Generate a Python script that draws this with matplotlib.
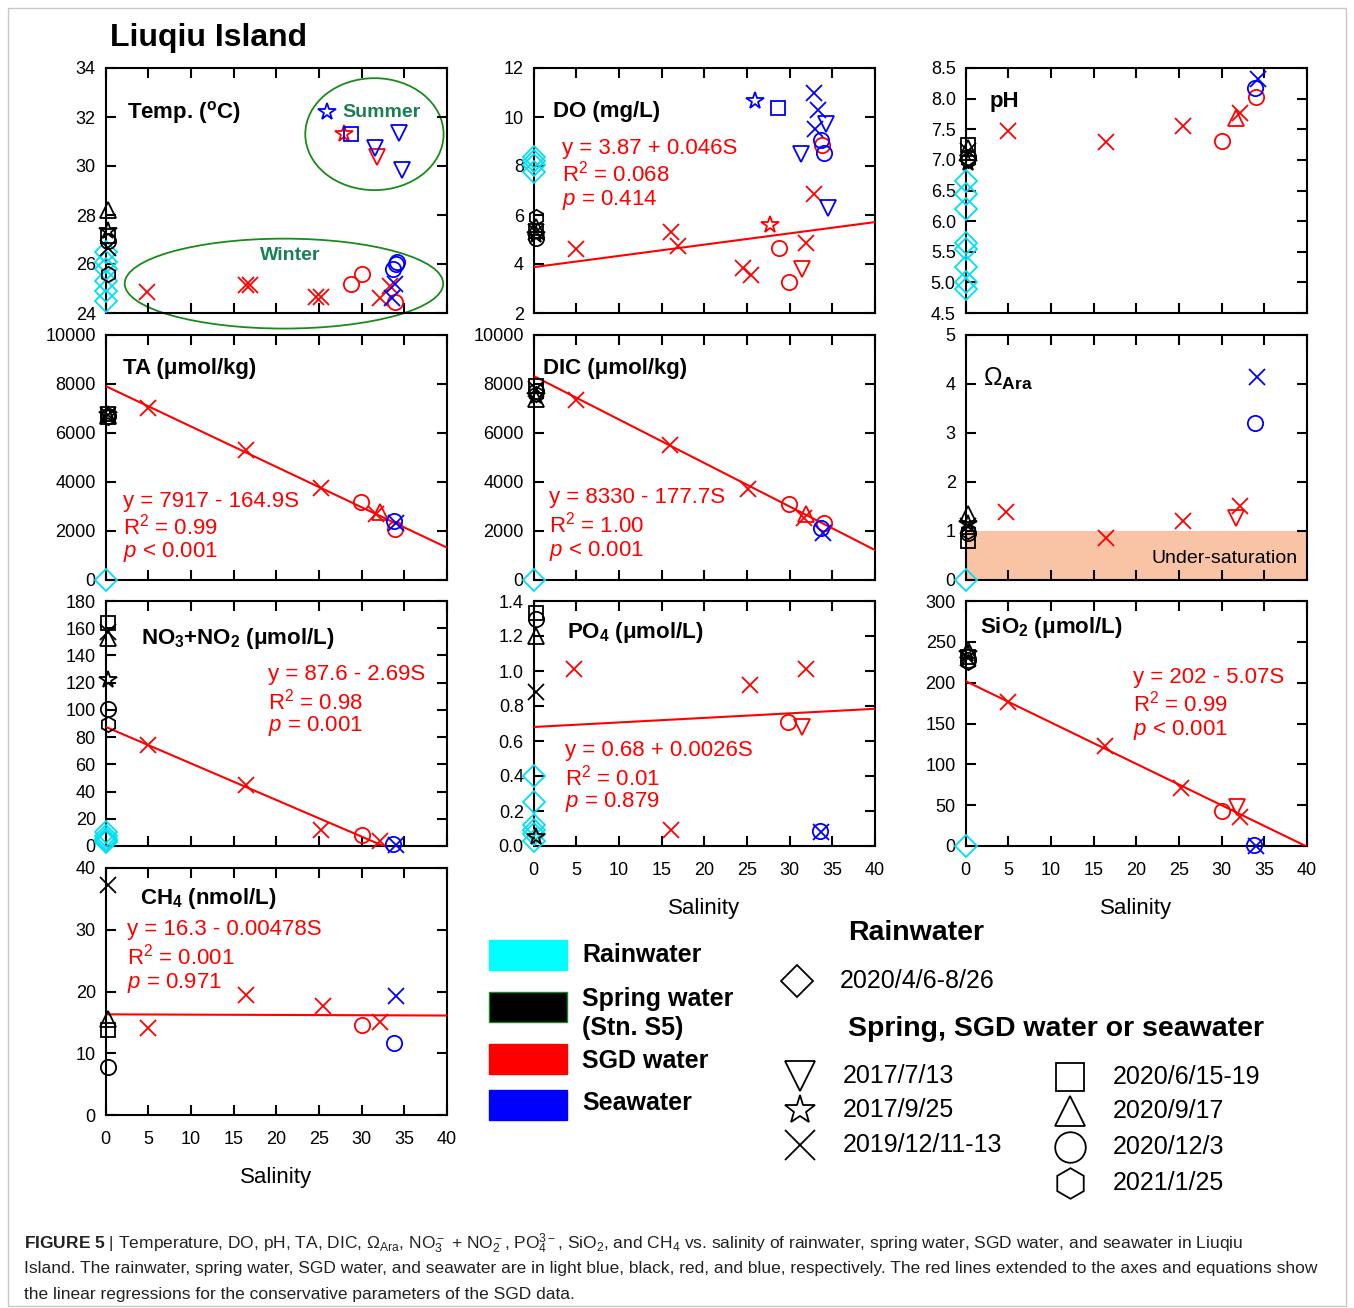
import numpy as np
import matplotlib
matplotlib.use("Agg")
import matplotlib.pyplot as plt
from matplotlib.patches import Ellipse, Rectangle
from matplotlib.ticker import FormatStrFormatter

plt.rcParams['font.family'] = ['Liberation Sans', 'DejaVu Sans']
plt.rcParams['mathtext.fontset'] = 'custom'
plt.rcParams['mathtext.rm'] = 'Liberation Sans'
plt.rcParams['mathtext.it'] = 'Liberation Sans:italic'
plt.rcParams['mathtext.bf'] = 'Liberation Sans:bold'

# ---- data: rainwater values (salinity 0), spring water (marker, value),
# ---- SGD / seawater (marker, salinity, value)
temp_rain = [26.5, 26.1, 25.8, 25.3, 24.9, 24.5]
temp_spring = [('^', 28.2), ('*', 27.35), ('s', 27.15), ('o', 26.95), ('x', 26.65), ('h', 25.6)]
temp_sgd = [('x', 4.9, 24.85), ('x', 16.4, 25.15), ('x', 16.9, 25.15), ('x', 24.7, 24.65),
            ('x', 25.3, 24.65), ('x', 32.1, 24.6), ('x', 33.3, 25.1), ('o', 28.7, 25.2),
            ('o', 30.0, 25.6), ('o', 33.9, 24.45), ('*', 27.9, 31.3), ('v', 31.8, 30.35)]
temp_sea = [('*', 26.0, 32.2), ('s', 28.8, 31.3), ('v', 31.6, 30.75), ('v', 34.4, 31.35),
            ('v', 34.7, 29.85), ('o', 33.7, 25.8), ('o', 34.0, 26.0), ('o', 34.2, 26.1),
            ('x', 33.5, 24.6), ('x', 33.9, 25.2)]

do_rain = [8.35, 8.2, 8.05, 7.75]
do_spring = [('h', 5.9), ('^', 5.5), ('s', 5.35), ('x', 5.3), ('*', 5.2), ('o', 5.05)]
do_sgd = [('x', 5.0, 4.6), ('x', 16.1, 5.3), ('x', 16.9, 4.75), ('x', 24.5, 3.85),
          ('x', 25.5, 3.55), ('x', 31.9, 4.85), ('x', 32.9, 6.85), ('*', 27.7, 5.6),
          ('o', 28.7, 4.65), ('o', 29.9, 3.25), ('o', 33.8, 8.85), ('v', 31.5, 3.8)]
do_sea = [('*', 26.0, 10.65), ('s', 28.6, 10.35), ('x', 32.8, 11.0), ('x', 33.3, 10.3),
          ('x', 33.0, 9.5), ('v', 31.3, 8.5), ('v', 34.3, 9.7), ('v', 34.5, 6.3),
          ('o', 33.7, 9.05), ('o', 34.0, 8.55)]

ph_rain = [6.65, 6.45, 6.2, 5.65, 5.55, 5.25, 5.0, 4.9]
ph_spring = [('s', 7.25), ('^', 7.2), ('x', 7.15), ('o', 7.05), ('h', 7.0), ('*', 6.95)]
ph_sgd = [('x', 5.0, 7.47), ('x', 16.4, 7.29), ('x', 25.5, 7.56), ('x', 32.1, 7.77),
          ('o', 30.0, 7.31), ('o', 34.0, 8.03), ('^', 31.7, 7.68)]
ph_sea = [('x', 34.3, 8.32), ('o', 33.9, 8.18)]

ta_rain = [20]
ta_spring = [('s', 6780), ('^', 6700), ('x', 6720), ('o', 6680), ('h', 6650), ('*', 6720)]
ta_sgd = [('x', 5.0, 7000), ('x', 16.4, 5300), ('x', 25.3, 3740), ('x', 31.7, 2680),
          ('o', 29.9, 3190), ('o', 33.9, 2080), ('^', 32.1, 2790)]
ta_sea = [('o', 33.8, 2400), ('x', 34.0, 2340)]

dic_rain = [20]
dic_spring = [('s', 7900), ('^', 7400), ('x', 7800), ('o', 7700), ('h', 7600), ('*', 7500)]
dic_sgd = [('x', 5.0, 7360), ('x', 16.0, 5530), ('x', 25.1, 3730), ('x', 31.7, 2550),
           ('o', 29.9, 3120), ('o', 34.0, 2320), ('^', 31.9, 2680)]
dic_sea = [('o', 33.7, 2140), ('x', 33.9, 1900)]

om_rain = [0.0]
om_spring = [('^', 1.35), ('*', 1.15), ('x', 1.1), ('h', 1.0), ('o', 0.95), ('s', 0.8)]
om_sgd = [('x', 4.8, 1.38), ('x', 16.4, 0.86), ('x', 25.5, 1.21), ('x', 32.1, 1.51),
          ('v', 31.7, 1.26)]
om_sea = [('x', 34.1, 4.15), ('o', 33.9, 3.21)]

no3_rain = [10, 7, 5, 4, 3]
no3_spring = [('s', 164), ('x', 157), ('^', 153), ('*', 122), ('o', 101), ('h', 90)]
no3_sgd = [('x', 5.0, 74), ('x', 16.4, 45), ('x', 25.3, 11.6), ('x', 32.1, 3.7),
           ('o', 30.0, 8.4)]
no3_sea = [('o', 33.7, 1.5), ('x', 34.0, 0.8)]

po4_rain = [0.40, 0.25, 0.12, 0.09, 0.07, 0.03]
po4_spring = [('s', 1.33), ('o', 1.30), ('^', 1.20), ('x', 0.88), ('*', 0.05)]
po4_sgd = [('x', 4.7, 1.01), ('x', 16.1, 0.09), ('x', 25.4, 0.92), ('x', 31.9, 1.01),
           ('o', 29.8, 0.71), ('v', 31.5, 0.68)]
po4_sea = [('o', 33.5, 0.085), ('x', 33.7, 0.08)]

si_rain = [0]
si_spring = [('^', 240), ('*', 235), ('s', 232), ('x', 230), ('o', 228), ('h', 225)]
si_sgd = [('x', 5.0, 176), ('x', 16.3, 122), ('x', 25.3, 70.5), ('x', 32.1, 36),
          ('o', 30.0, 43), ('v', 31.8, 48)]
si_sea = [('o', 33.8, 1), ('x', 34.0, 0.5)]

ch4_rain = []
ch4_spring = [('x', 37.3), ('^', 15.5), ('s', 13.8), ('o', 7.8)]
ch4_sgd = [('x', 5.0, 14.1), ('x', 16.4, 19.5), ('x', 25.5, 17.6), ('x', 32.1, 15.1),
           ('o', 30.0, 14.6)]
ch4_sea = [('x', 34.0, 19.3), ('o', 33.8, 11.7)]

# regression (intercept, slope) of SGD data
do_fit = (3.87, 0.046)
ta_fit = (7917, -164.9)
dic_fit = (8330, -177.7)
no3_fit = (87.6, -2.69)
po4_fit = (0.68, 0.0026)
si_fit = (202, -5.07)
ch4_fit = (16.3, -0.00478)

do_eq = ['y = 3.87 + 0.046S', 'R$^2$ = 0.068', '$p$ = 0.414']
ta_eq = ['y = 7917 - 164.9S', 'R$^2$ = 0.99', '$p$ < 0.001']
dic_eq = ['y = 8330 - 177.7S', 'R$^2$ = 1.00', '$p$ < 0.001']
no3_eq = ['y = 87.6 - 2.69S', 'R$^2$ = 0.98', '$p$ = 0.001']
po4_eq = ['y = 0.68 + 0.0026S', 'R$^2$ = 0.01', '$p$ = 0.879']
si_eq = ['y = 202 - 5.07S', 'R$^2$ = 0.99', '$p$ < 0.001']
ch4_eq = ['y = 16.3 - 0.00478S', 'R$^2$ = 0.001', '$p$ = 0.971']

COL = {'rain': '#00e0f4', 'spring': 'black', 'sgd': 'red', 'sea': 'blue'}
MS = {'x': 11, 'o': 11, 'v': 11, '^': 11, 's': 10, '*': 13, 'h': 11, 'D': 11}

W, H = 1354, 1308
fig = plt.figure(figsize=(W / 100, H / 100), dpi=100)

col_left = [105.5, 533.5, 965.5]
row_top = [68, 335, 601, 868]


def make_ax(c, r):
    h = 247 if r == 3 else 245
    return fig.add_axes([col_left[c] / W, 1 - (row_top[r] + h) / H, 341.5 / W, h / H])


def mark(ax, m, s, v, color, size=None):
    ax.plot(s, v, m, ms=size or MS[m], mfc='none', mec=color, color=color,
            mew=1.3, clip_on=False, zorder=4)


def draw_panel(c, r, rain, spring, sgd, sea, ylim, ystep, fmt, label, lxy,
               fit=None, eq=None, exy=None, xlabels=False, lsize=16):
    ax = make_ax(c, r)
    ax.set_xlim(0, 40)
    ax.set_ylim(*ylim)
    ax.set_xticks(np.arange(0, 41, 5))
    ax.set_yticks(np.arange(ylim[0], ylim[1] + ystep / 2, ystep))
    ax.yaxis.set_major_formatter(FormatStrFormatter(fmt))
    ax.tick_params(direction='in', length=7, width=1.5, top=True, right=True,
                   labelsize=13, pad=7)
    ax.tick_params(axis='x', pad=11.5)
    for sp in ax.spines.values():
        sp.set_linewidth(1.5)
    if xlabels:
        ax.set_xlabel('Salinity', fontsize=16, labelpad=14)
    else:
        ax.tick_params(axis='x', labelbottom=False)
    if fit is not None:
        a, b = fit
        xend = 40
        if b < 0 and (ylim[0] - a) / b < 40:
            xend = (ylim[0] - a) / b
        xs = np.array([0, xend])
        ax.plot(xs, a + b * xs, color='red', lw=1.5, zorder=3)
    for v in rain:
        mark(ax, 'D', 0, v, COL['rain'])
    for m, v in spring:
        mark(ax, m, 0.3, v, COL['spring'])
    for m, s, v in sgd:
        mark(ax, m, s, v, COL['sgd'])
    for m, s, v in sea:
        mark(ax, m, s, v, COL['sea'])
    ax.text(lxy[0], lxy[1], label, transform=ax.transAxes, fontsize=lsize,
            fontweight='bold', ha='left', va='center')
    if eq is not None:
        for line, yy in zip(eq, exy[1]):
            ax.text(exy[0], yy, line, transform=ax.transAxes, fontsize=16,
                    color='red', ha='left', va='center')
    return ax


ax_t = draw_panel(0, 0, temp_rain, temp_spring, temp_sgd, temp_sea, (24, 34), 2, '%d',
                  'Temp. ($^{\\mathbf{o}}$C)', (0.063, 0.82))
ax_t.add_patch(Ellipse((31.5, 31.3), 16.2, 4.57, fill=False, ec='#1a8a1a', lw=1.3,
                       clip_on=False))
ax_t.add_patch(Ellipse((20.9, 25.2), 37.3, 3.67, fill=False, ec='#1a8a1a', lw=1.3,
                       clip_on=False))
ax_t.text(32.3, 32.2, 'Summer', color='#1a7f55', fontsize=14, fontweight='bold',
          ha='center', va='center')
ax_t.text(21.6, 26.35, 'Winter', color='#1a7f55', fontsize=14, fontweight='bold',
          ha='center', va='center')

draw_panel(1, 0, do_rain, do_spring, do_sgd, do_sea, (2, 12), 2, '%d',
           'DO (mg/L)', (0.058, 0.823), do_fit, do_eq, (0.083, [0.673, 0.57, 0.461]))
draw_panel(2, 0, ph_rain, ph_spring, ph_sgd, ph_sea, (4.5, 8.5), 0.5, '%.1f',
           'pH', (0.071, 0.864))
draw_panel(0, 1, ta_rain, ta_spring, ta_sgd, ta_sea, (0, 10000), 2000, '%d',
           'TA (\u03bcmol/kg)', (0.052, 0.864), ta_fit, ta_eq, (0.052, [0.32, 0.218, 0.116]))
draw_panel(1, 1, dic_rain, dic_spring, dic_sgd, dic_sea, (0, 10000), 2000, '%d',
           'DIC (\u03bcmol/kg)', (0.027, 0.864), dic_fit, dic_eq, (0.044, [0.336, 0.228, 0.12]))
ax_o = draw_panel(2, 1, om_rain, om_spring, om_sgd, om_sea, (0, 5), 1, '%d',
                  '$\\Omega_{\\mathbf{Ara}}$', (0.052, 0.82), lsize=18)
ax_o.axhspan(0, 1, color='#f9c4a6', zorder=0, lw=0)
ax_o.text(30.3, 0.43, 'Under-saturation', fontsize=14, ha='center', va='center')
draw_panel(0, 2, no3_rain, no3_spring, no3_sgd, no3_sea, (0, 180), 20, '%d',
           'NO$_\\mathbf{3}$+NO$_\\mathbf{2}$ (\u03bcmol/L)', (0.105, 0.846),
           no3_fit, no3_eq, (0.476, [0.70, 0.59, 0.488]))
draw_panel(1, 2, po4_rain, po4_spring, po4_sgd, po4_sea, (0, 1.4), 0.2, '%.1f',
           'PO$_\\mathbf{4}$ (\u03bcmol/L)', (0.097, 0.873),
           po4_fit, po4_eq, (0.092, [0.39, 0.28, 0.178]), xlabels=True)
draw_panel(2, 2, si_rain, si_spring, si_sgd, si_sea, (0, 300), 50, '%d',
           'SiO$_\\mathbf{2}$ (\u03bcmol/L)', (0.042, 0.89),
           si_fit, si_eq, (0.49, [0.686, 0.583, 0.474]), xlabels=True)
draw_panel(0, 3, ch4_rain, ch4_spring, ch4_sgd, ch4_sea, (0, 40), 10, '%d',
           'CH$_\\mathbf{4}$ (nmol/L)', (0.10, 0.878),
           ch4_fit, ch4_eq, (0.064, [0.753, 0.64, 0.536]), xlabels=True)

# ---- overlay in pixel coordinates for title, legend, caption
ov = fig.add_axes([0, 0, 1, 1], facecolor='none')
ov.set_xlim(0, W)
ov.set_ylim(H, 0)
ov.axis('off')
ov.add_patch(Rectangle((8, 8), W - 16, H - 10, fill=False, ec='#c8c8c8', lw=1))

ov.text(110, 38, 'Liuqiu Island', fontsize=23, fontweight='bold', va='center')

legend_groups = ['Rainwater', 'Spring water', 'SGD water', 'Seawater']
group_keys = ['rain', 'spring', 'sgd', 'sea']
box_y = [940, 992, 1044, 1090]
text_y = [955, 999, 1061, 1103]
for name, key, by, ty in zip(legend_groups, group_keys, box_y, text_y):
    fc = '#00ffff' if key == 'rain' else COL[key]
    ov.add_patch(Rectangle((489, by), 78, 30, fc=fc,
                           ec='#1a8a1a' if key == 'spring' else fc, lw=1))
    ov.text(582, ty, name, fontsize=18, fontweight='bold', va='center')
ov.text(582, 1028, '(Stn. S5)', fontsize=18, fontweight='bold', va='center')

ov.text(848, 933, 'Rainwater', fontsize=20.5, fontweight='bold', va='center')
ov.text(848, 1029, 'Spring, SGD water or seawater', fontsize=20.5,
        fontweight='bold', va='center')
ov.plot(797, 981, 'D', ms=16, mfc='none', mec='black', mew=1.3)
ov.text(840, 981, '2020/4/6-8/26', fontsize=18, va='center')

date_markers = ['v', '*', 'x', 's', '^', 'o', 'h']
date_labels = ['2017/7/13', '2017/9/25', '2019/12/11-13', '2020/6/15-19',
               '2020/9/17', '2020/12/3', '2021/1/25']
date_mx = [800, 800, 800, 1070, 1070, 1070, 1070]
date_my = [1076, 1110, 1145, 1077, 1111, 1147, 1183]
for m, lab, mx, my in zip(date_markers, date_labels, date_mx, date_my):
    ov.plot(mx, my, m, ms=22 if m != 's' else 20, mfc='none', mec='black',
            color='black', mew=1.3)
    ov.text(mx + 43, my, lab, fontsize=18, va='center')

caption = [
    r'$\mathbf{FIGURE\ 5}$ | Temperature, DO, pH, TA, DIC, $\Omega_{\mathrm{Ara}}$, '
    r'NO$_3^-$ + NO$_2^-$, PO$_4^{3-}$, SiO$_2$, and CH$_4$ vs. salinity of rainwater, '
    r'spring water, SGD water, and seawater in Liuqiu',
    'Island. The rainwater, spring water, SGD water, and seawater are in light blue, '
    'black, red, and blue, respectively. The red lines extended to the axes and equations show',
    'the linear regressions for the conservative parameters of the SGD data.',
]
for line, cy in zip(caption, [1244, 1269, 1294]):
    ov.text(24, cy, line, fontsize=12.5, va='center', color='#222222')

fig.savefig('out.png', dpi=100)
